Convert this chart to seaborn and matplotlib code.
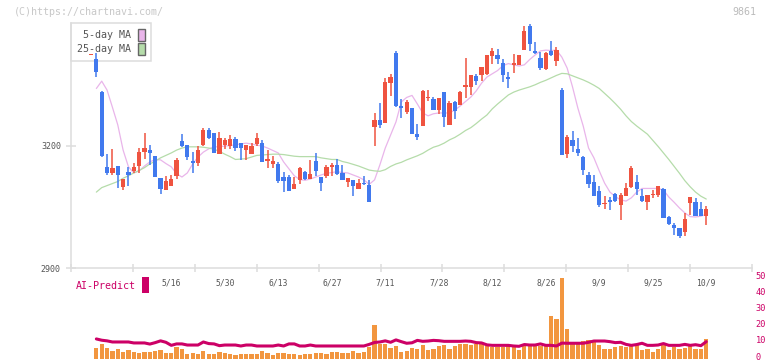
import numpy as np
import pandas as pd
import matplotlib
matplotlib.use("Agg")
import matplotlib.pyplot as plt
import matplotlib.transforms as mtransforms
import seaborn as sns
from matplotlib.patches import Patch, Rectangle

sns.set_theme(style="white")
plt.rcParams["font.family"] = ["DejaVu Sans Mono", "DejaVu Sans"]

# daily candles (one entry per trading day, oldest first)
opens = [
    3423, 3412, 3332, 3148, 3134, 3150, 3099, 3135, 3138, 3150,
    3184, 3189, 3175, 3121, 3090, 3102, 3126, 3211, 3201, 3162,
    3157, 3202, 3238, 3230, 3179, 3201, 3199, 3216, 3206, 3189,
    3179, 3204, 3206, 3162, 3155, 3155, 3123, 3123, 3094, 3116,
    3135, 3118, 3162, 3123, 3126, 3148, 3153, 3133, 3111, 3116,
    3094, 3108, 3103, 3246, 3263, 3255, 3353, 3427, 3297, 3282,
    3292, 3228, 3248, 3317, 3314, 3287, 3331, 3251, 3307, 3299,
    3344, 3344, 3371, 3373, 3376, 3420, 3422, 3403, 3368, 3398,
    3398, 3434, 3493, 3432, 3415, 3388, 3432, 3407, 3336, 3179,
    3214, 3192, 3172, 3128, 3111, 3089, 3056, 3067, 3081, 3054,
    3077, 3099, 3111, 3077, 3062, 3079, 3079, 3094, 3025, 3005,
    2998, 2988, 3059, 3062, 3045, 3028,
]
highs = [
    3425, 3426, 3334, 3179, 3192, 3150, 3117, 3148, 3158, 3193,
    3231, 3202, 3175, 3121, 3126, 3128, 3170, 3228, 3201, 3184,
    3199, 3242, 3242, 3230, 3233, 3219, 3226, 3221, 3206, 3201,
    3206, 3231, 3214, 3189, 3175, 3160, 3135, 3128, 3123, 3148,
    3138, 3165, 3182, 3123, 3153, 3157, 3167, 3153, 3121, 3116,
    3118, 3126, 3116, 3280, 3304, 3366, 3375, 3432, 3314, 3312,
    3292, 3253, 3336, 3336, 3319, 3317, 3331, 3309, 3309, 3334,
    3415, 3373, 3375, 3393, 3422, 3439, 3437, 3412, 3380, 3425,
    3422, 3493, 3498, 3454, 3429, 3429, 3456, 3442, 3341, 3226,
    3236, 3219, 3175, 3135, 3128, 3101, 3077, 3074, 3084, 3084,
    3108, 3150, 3128, 3094, 3079, 3091, 3101, 3096, 3028, 3010,
    2998, 3035, 3074, 3072, 3062, 3052,
]
lows = [
    3423, 3369, 3171, 3128, 3128, 3095, 3090, 3101, 3132, 3132,
    3166, 3153, 3123, 3081, 3090, 3102, 3117, 3197, 3165, 3132,
    3150, 3199, 3217, 3183, 3179, 3192, 3192, 3187, 3165, 3165,
    3179, 3199, 3160, 3145, 3145, 3108, 3086, 3089, 3094, 3106,
    3116, 3118, 3126, 3089, 3121, 3126, 3128, 3116, 3099, 3076,
    3094, 3103, 3062, 3199, 3243, 3255, 3322, 3295, 3268, 3277,
    3228, 3214, 3248, 3309, 3287, 3277, 3246, 3251, 3265, 3299,
    3317, 3324, 3349, 3358, 3373, 3400, 3400, 3356, 3341, 3378,
    3398, 3434, 3432, 3425, 3385, 3385, 3420, 3395, 3177, 3170,
    3184, 3175, 3128, 3096, 3077, 3050, 3045, 3042, 3062, 3018,
    3077, 3096, 3079, 3062, 3042, 3072, 3074, 3023, 3005, 2981,
    2974, 2979, 3030, 3027, 3027, 3005,
]
closes = [
    3425, 3380, 3175, 3134, 3145, 3129, 3117, 3129, 3148, 3184,
    3194, 3183, 3123, 3094, 3113, 3118, 3165, 3199, 3173, 3157,
    3189, 3238, 3219, 3183, 3219, 3213, 3216, 3195, 3194, 3201,
    3199, 3219, 3160, 3167, 3162, 3113, 3113, 3089, 3106, 3145,
    3118, 3130, 3138, 3108, 3148, 3153, 3130, 3116, 3121, 3101,
    3108, 3106, 3062, 3263, 3251, 3356, 3368, 3297, 3292, 3307,
    3228, 3221, 3334, 3319, 3287, 3317, 3270, 3304, 3285, 3331,
    3349, 3373, 3358, 3393, 3422, 3432, 3412, 3373, 3363, 3403,
    3422, 3481, 3449, 3427, 3390, 3427, 3422, 3434, 3177, 3221,
    3199, 3182, 3140, 3106, 3077, 3054, 3057, 3062, 3064, 3079,
    3096, 3145, 3094, 3064, 3079, 3082, 3101, 3023, 3008, 2998,
    2979, 3020, 3074, 3027, 3028, 3045,
]
ma5 = [
    np.nan, 3340, 3358, 3336, 3294, 3251, 3189, 3148, 3133, 3138,
    3150, 3160, 3166, 3165, 3156, 3148, 3131, 3123, 3133, 3155,
    3172, 3184, 3192, 3197, 3197, 3199, 3200, 3202, 3204, 3206,
    3204, 3201, 3199, 3194, 3188, 3182, 3160, 3143, 3126, 3117,
    3115, 3118, 3123, 3128, 3132, 3134, 3136, 3134, 3133, 3128,
    3123, 3116, 3105, 3116, 3153, 3194, 3226, 3258, 3307, 3318,
    3323, 3302, 3280, 3273, 3278, 3280, 3280, 3280, 3287, 3297,
    3308, 3319, 3334, 3353, 3368, 3376, 3384, 3396, 3401, 3398,
    3395, 3398, 3411, 3422, 3432, 3434, 3433, 3434, 3417, 3390,
    3344, 3292, 3248, 3194, 3170, 3138, 3108, 3086, 3075, 3067,
    3064, 3072, 3086, 3095, 3095, 3095, 3095, 3091, 3074, 3061,
    3047, 3035, 3026, 3025, 3027, 3032,
]
ma25 = [
    np.nan, 3086, 3097, 3102, 3107, 3112, 3120, 3126, 3133, 3139,
    3146, 3155, 3162, 3170, 3176, 3182, 3189, 3194, 3197, 3197,
    3197, 3196, 3194, 3191, 3186, 3179, 3173, 3166, 3167, 3168,
    3172, 3176, 3177, 3178, 3179, 3179, 3178, 3176, 3174, 3173,
    3173, 3173, 3173, 3170, 3168, 3166, 3166, 3161, 3158, 3154,
    3150, 3145, 3140, 3138, 3137, 3141, 3149, 3155, 3159, 3165,
    3170, 3175, 3181, 3189, 3196, 3200, 3206, 3214, 3220, 3228,
    3237, 3244, 3254, 3265, 3275, 3290, 3302, 3313, 3324, 3331,
    3336, 3340, 3344, 3349, 3355, 3360, 3366, 3372, 3377, 3376,
    3371, 3366, 3361, 3355, 3348, 3340, 3328, 3316, 3303, 3289,
    3273, 3259, 3248, 3238, 3228, 3213, 3198, 3182, 3166, 3149,
    3132, 3114, 3099, 3086, 3076, 3069,
]
volume = [
    np.nan, 6.6, 9.1, 6.6, 4.7, 5.9, 4.1, 5.3, 4.1, 3.4,
    4.1, 4.1, 4.7, 5.3, 3.4, 3.4, 7.2, 5.9, 2.8, 3.4,
    2.8, 4.7, 2.8, 2.8, 4.1, 3.4, 2.8, 2.2, 2.8, 2.8,
    2.8, 2.8, 4.7, 3.4, 2.2, 3.4, 3.4, 2.8, 2.8, 2.2,
    2.8, 2.8, 3.4, 3.4, 2.8, 4.1, 4.1, 3.4, 3.4, 4.7,
    3.4, 4.1, 7.2, 20.9, 9.1, 9.1, 6.6, 7.8, 4.1, 4.7,
    6.6, 5.9, 8.4, 5.3, 5.9, 7.8, 8.4, 5.9, 7.8, 9.1,
    9.1, 8.4, 9.1, 9.1, 7.8, 7.2, 7.2, 7.2, 7.8, 7.2,
    5.3, 8.4, 7.8, 7.8, 7.8, 9.1, 26.6, 24.9, 49.9, 18.6,
    9.1, 9.1, 10.9, 11.5, 11.5, 8.4, 5.9, 5.9, 7.2, 7.8,
    7.2, 7.8, 8.4, 5.3, 5.9, 4.1, 5.9, 8.4, 5.3, 7.2,
    5.9, 6.6, 7.8, 5.9, 5.9, 12.2,
]
ai_predict = [
    np.nan, 12.2, 11.4, 11.0, 10.3, 10.3, 10.3, 10.3, 9.7, 9.7,
    9.7, 9.0, 9.9, 11.0, 10.1, 8.2, 9.1, 9.1, 8.4, 8.4,
    8.4, 10.3, 9.3, 9.1, 8.0, 8.4, 8.4, 8.4, 7.8, 8.4,
    8.4, 7.8, 7.8, 7.8, 7.8, 8.4, 7.8, 9.1, 9.1, 7.8,
    7.8, 8.4, 7.8, 7.8, 7.8, 7.8, 7.8, 7.8, 7.8, 7.8,
    7.8, 7.8, 8.8, 10.0, 10.3, 11.0, 10.1, 11.6, 10.5, 9.5,
    9.8, 11.3, 10.7, 10.9, 11.3, 11.1, 10.7, 10.7, 10.7, 10.7,
    10.9, 10.7, 9.9, 9.7, 8.5, 8.2, 8.2, 8.2, 8.2, 7.8,
    7.6, 8.7, 8.4, 8.4, 9.1, 8.2, 8.2, 7.8, 9.6, 9.5,
    9.5, 9.5, 9.5, 10.1, 10.9, 10.9, 10.9, 10.5, 9.9, 10.1,
    8.8, 8.2, 8.7, 9.5, 8.2, 8.2, 8.4, 9.3, 8.2, 8.2,
    8.2, 8.8, 8.2, 8.6, 8.0, 10.5,
]
date_labels = ["5/16", "5/30", "6/13", "6/27", "7/11", "7/28",
               "8/12", "8/26", "9/9", "9/25", "10/9"]
date_index = [15, 25, 35, 45, 55, 65, 75, 85, 95, 105, 115]
price_ticks = [2900, 3200]
vol_ticks = [0, 10, 20, 30, 40, 50]

RED = "#ef5340"
BLUE = "#4179ee"
PINK = "#e9b5ea"
GREEN = "#b5dcaa"
ORANGE = "#f2963f"
CRIMSON = "#cc0066"
GRID = "#dddddd"
TXT = "#555555"

df = pd.DataFrame({"day": np.arange(len(closes)), "open": opens, "high": highs,
                   "low": lows, "close": closes, "ma5": ma5, "ma25": ma25,
                   "volume": volume, "ai": ai_predict})

W, H = 772, 361
fx = lambda px: px / W
fy = lambda py: 1 - py / H

fig = plt.figure(figsize=(W / 100, H / 100), dpi=100)
ax = fig.add_axes([fx(71), fy(268), fx(752) - fx(71), fy(23.2) - fy(268)])
axv = fig.add_axes([fx(71), fy(358.5), fx(752) - fx(71), fy(278.3) - fy(358.5)])
xlim = (-3.74, 123.55)

# candles
up = df["close"] >= df["open"]
cols = np.where(up, RED, BLUE)
ax.vlines(df["day"], df["low"], df["high"], colors=cols, linewidth=1.1, zorder=3)
body_lo = np.minimum(df["open"], df["close"])
body_h = np.maximum((df["close"] - df["open"]).abs(), 2.5)
ax.bar(df["day"], body_h, bottom=body_lo, width=0.8, color=cols, linewidth=0, zorder=4)

# moving averages
sns.lineplot(data=df, x="day", y="ma5", color=PINK, linewidth=0.9, ax=ax, zorder=2)
sns.lineplot(data=df, x="day", y="ma25", color=GREEN, linewidth=0.9, ax=ax, zorder=2)

ax.set_xlim(*xlim)
ax.set_ylim(2900, 3500)
ax.set_xlabel("")
ax.set_ylabel("")
for s in ["top", "right"]:
    ax.spines[s].set_visible(False)
for s in ["left", "bottom"]:
    ax.spines[s].set_color(GRID)
    ax.spines[s].set_linewidth(1.1)
ax.set_xticks(np.linspace(xlim[0], xlim[1], 12))
ax.set_xticklabels([])
ax.set_xticks(date_index, minor=True)
ax.set_xticklabels(date_labels, minor=True)
ax.tick_params(axis="x", which="major", direction="inout", length=6, width=1.1,
               color=GRID, bottom=True)
ax.tick_params(axis="x", which="minor", length=0, pad=7.5, labelsize=5.8,
               labelcolor=TXT, bottom=True)
ax.set_yticks(price_ticks)
ax.set_yticklabels([str(t) for t in price_ticks])
ax.tick_params(axis="y", direction="inout", length=6.5, width=1.1, color=GRID,
               labelsize=6, labelcolor=TXT, pad=4, left=True)

leg = ax.legend([Patch(facecolor=PINK, edgecolor="#666666", linewidth=1),
                 Patch(facecolor=GREEN, edgecolor="#666666", linewidth=1)],
                [" 5-day MA", "25-day MA"], loc="upper left", bbox_to_anchor=(0, 1),
                borderaxespad=0, markerfirst=False, frameon=True, fancybox=False,
                framealpha=1, edgecolor=GRID, fontsize=7.2, handlelength=0.65,
                handleheight=1.45, handletextpad=0.7, labelspacing=0.2, borderpad=0.6)
leg.get_frame().set_linewidth(1.1)
for t in leg.get_texts():
    t.set_color(TXT)
leg.set_zorder(1)

# volume + AI prediction
sns.barplot(data=df, x="day", y="volume", native_scale=True, color=ORANGE,
            saturation=1, width=0.8, errorbar=None, ax=axv, linewidth=0)
sns.lineplot(data=df, x="day", y="ai", color=CRIMSON, linewidth=2.2, ax=axv, zorder=3)
axv.set_xlim(*xlim)
axv.set_ylim(0, 50)
axv.set_xlabel("")
axv.set_ylabel("")
axv.patch.set_alpha(0)
for s in axv.spines.values():
    s.set_visible(False)
axv.set_xticks([])
axv.yaxis.tick_right()
axv.set_yticks(vol_ticks)
axv.set_yticklabels([str(t) for t in vol_ticks])
axv.tick_params(axis="y", length=0, pad=2.5, labelsize=6.2, labelcolor=CRIMSON)
lift = mtransforms.ScaledTranslation(0, 1.8 / 72, fig.dpi_scale_trans)
for lab in axv.get_yticklabels():
    lab.set_transform(lab.get_transform() + lift)

fig.text(fx(76), fy(286), "AI-Predict", color=CRIMSON, fontsize=7.2, va="center", ha="left")
fig.add_artist(Rectangle((fx(142), fy(293)), fx(7), 16 / H, transform=fig.transFigure,
                         facecolor=CRIMSON, edgecolor="none"))
fig.text(fx(14), fy(12), "(C)https://chartnavi.com/", color="#c8c8c8", fontsize=7.2,
         va="center", ha="left")
fig.text(fx(756), fy(12), "9861", color="#bbbbbb", fontsize=7.2, va="center", ha="right")

fig.savefig("out.png", dpi=100, facecolor="white")
plt.close(fig)
